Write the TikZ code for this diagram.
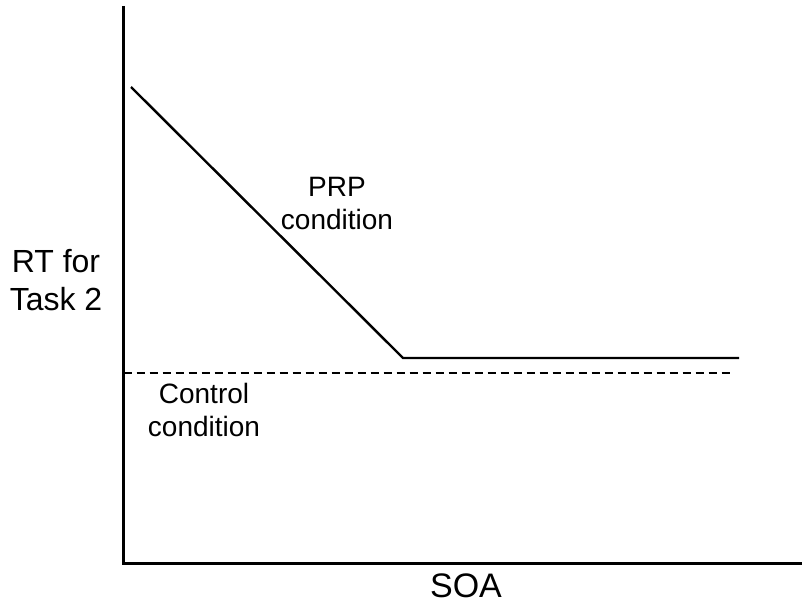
\documentclass[tikz,border=0pt]{standalone}
\usepackage{fontspec}
\setmainfont{Liberation Sans}
\begin{document}
\begin{tikzpicture}[x=1pt,y=-1pt,
  axis/.style={line width=3pt,line cap=butt},
  curve/.style={line width=2.4pt,line join=miter},
  ctrl/.style={line width=2.4pt,dash pattern=on 8.5pt off 4.5pt},
  lbl/.style={align=center,inner sep=0pt,font=\fontsize{28}{33}\selectfont},
  biglbl/.style={align=center,inner sep=0pt,font=\fontsize{32}{38}\selectfont}]
\useasboundingbox (0,0) rectangle (802,604);
% axes
\coordinate (top) at (123.5,6);
\coordinate (origin) at (123.5,563);
\coordinate (right) at (802,563);
\draw[axis] (top) -- (origin) -- (right);
% PRP condition curve
\coordinate (p0) at (131,87);
\coordinate (p1) at (403,358);
\coordinate (p2) at (739,358);
\draw[curve] (p0) -- (p1) -- (p2);
% control condition baseline
\coordinate (c0) at (123.5,373);
\coordinate (c1) at (730,373);
\draw[ctrl] (c0) -- (c1);
% labels
\node[lbl] (prp) at (337,204) {PRP\\condition};
\node[lbl] (control) at (204,410) {Control\\condition};
\node[biglbl] (rt) at (56,280) {RT for\\Task 2};
\node[biglbl,font=\fontsize{34}{40}\selectfont] (soa) at (466,586) {SOA};
\end{tikzpicture}
\end{document}
